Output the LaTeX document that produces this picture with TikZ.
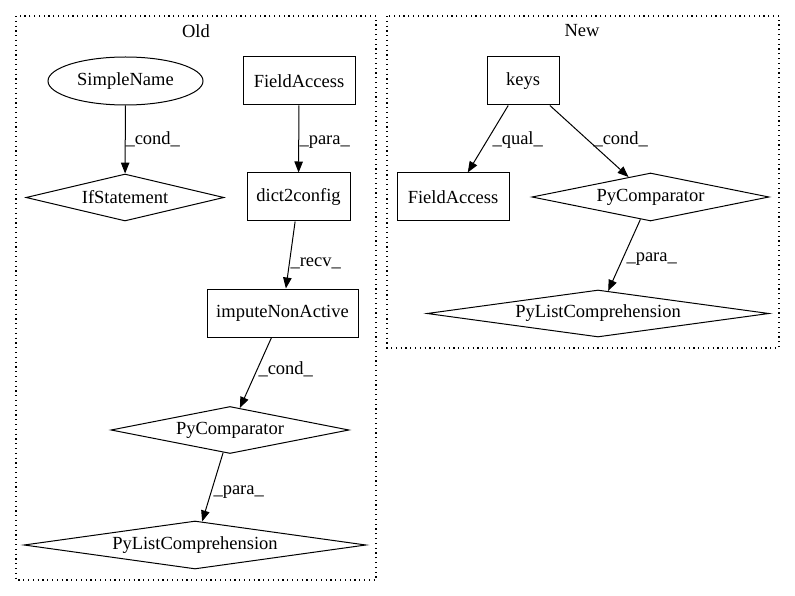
\documentclass[tikz,border=0pt]{standalone}
\usepackage{fontspec}
\setmainfont{Liberation Serif}
\usetikzlibrary{shapes.geometric,arrows.meta}
\begin{document}
\begin{tikzpicture}[x=1pt,y=-1pt,
  every node/.style={font=\fontsize{18.5}{22}\selectfont},
  box/.style={draw, rectangle, line width=1pt, inner sep=0, minimum height=48},
  dia/.style={draw, diamond, line width=1pt, inner sep=0},
  ell/.style={draw, ellipse, line width=1pt, inner sep=0},
  arr/.style={line width=1pt, -{Triangle[length=11pt,width=8.5pt]}},
  lbl/.style={anchor=west, inner sep=0, text height=13pt, text depth=4pt},
  cluster/.style={line width=1.2pt, dash pattern=on 1.2pt off 3.6pt}
]
\useasboundingbox (0,0) rectangle (795,596);
% clusters
\draw[cluster] (16,16) rectangle (376,580);
\draw[cluster] (387,16) rectangle (779,348);
\node (oldt) at (196,31) {Old};
\node (newt) at (582,31) {New};
% Old
\node[ell, minimum width=155, minimum height=48] (sn) at (125.5,81) {SimpleName};
\node[dia, minimum width=198, minimum height=47, aspect=4.2] (ifs) at (125,197.5) {IfStatement};
\node[box, minimum width=112] (fa1) at (299,81) {FieldAccess};
\node[box, minimum width=103] (d2c) at (298.5,197) {dict2config};
\node[box, minimum width=151] (imp) at (282.5,313) {imputeNonActive};
\node[dia, minimum width=238, minimum height=47, aspect=5.06] (pc1) at (230,430) {PyComparator};
\node[dia, minimum width=342, minimum height=48, aspect=7.1] (pl1) at (195,545) {PyListComprehension};
% New
\node[box, minimum width=72] (keys) at (523,81) {keys};
\node[box, minimum width=112] (fa2) at (453,197) {FieldAccess};
\node[dia, minimum width=237, minimum height=48, aspect=4.9] (pc2) at (650.5,197) {PyComparator};
\node[dia, minimum width=342, minimum height=47, aspect=7.2] (pl2) at (598,313.5) {PyListComprehension};
% edges
\draw[arr] (sn) -- (ifs) node[lbl] at (125,140) {\_cond\_};
\draw[arr] (fa1) -- (d2c) node[lbl] at (299,140) {\_para\_};
\draw[arr] (d2c) -- (imp) node[lbl] at (290,262) {\_recv\_};
\draw[arr] (imp) -- (pc1) node[lbl] at (258,370) {\_cond\_};
\draw[arr] (pc1) -- (pl1) node[lbl] at (213,490) {\_para\_};
\draw[arr] (keys) -- (fa2) node[lbl] at (492,140) {\_qual\_};
\draw[arr] (keys) -- (pc2) node[lbl] at (593,140) {\_cond\_};
\draw[arr] (pc2) -- (pl2) node[lbl] at (626,257) {\_para\_};
\end{tikzpicture}
\end{document}
